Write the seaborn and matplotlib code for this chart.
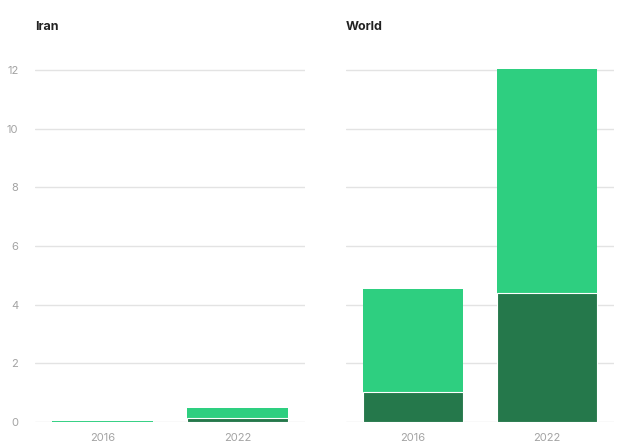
import matplotlib
matplotlib.use("Agg")
import matplotlib.pyplot as plt
import pandas as pd
import seaborn as sns

years = ["2016", "2022"]
regions = ["Iran", "World"]
lower = {"Iran": [0.01, 0.14], "World": [1.02, 4.40]}
upper = {"Iran": [0.02, 0.34], "World": [3.51, 7.63]}

dark_green = "#25784b"
light_green = "#2ecf80"
grid_color = "#e3e3e3"
text_color = "#a3a3a3"

sns.set_theme(style="white")
plt.rcParams["font.family"] = ["Inter", "DejaVu Sans"]

fig = plt.figure(figsize=(6.21, 4.45), dpi=100)
ax_iran = fig.add_axes([35 / 621, 23 / 445, 270 / 621, 355 / 445])
ax_world = fig.add_axes([346 / 621, 23 / 445, 268 / 621, 355 / 445])

for ax, region in zip([ax_iran, ax_world], regions):
    df = pd.DataFrame({
        "year": years,
        "lower": lower[region],
        "total": [a + b for a, b in zip(lower[region], upper[region])],
    })
    for y in range(0, 13, 2):
        ax.axhline(y, color=grid_color, lw=1.0, zorder=0)
    sns.barplot(data=df, x="year", y="total", color=light_green, width=0.75,
                saturation=1, edgecolor="none", ax=ax, zorder=2)
    sns.barplot(data=df, x="year", y="lower", color=dark_green, width=0.75,
                saturation=1, edgecolor="white", linewidth=0.8, ax=ax, zorder=3)
    ax.set_xlim(-0.5, 1.5)
    ax.set_ylim(0, 12.1)
    ax.set_xlabel("")
    ax.set_ylabel("")
    ax.set_yticks(range(0, 13, 2))
    sns.despine(ax=ax, left=True, bottom=True)
    ax.tick_params(axis="both", length=0, labelsize=8, colors=text_color)
    ax.tick_params(axis="x", pad=8)
    ax.text(0.0, 1.095, region, transform=ax.transAxes, fontsize=9,
            fontweight="bold", color="#222222", va="bottom", ha="left")

ax_iran.tick_params(axis="y", pad=12)
ax_world.set_yticklabels([])

fig.savefig("out.png", dpi=100)
